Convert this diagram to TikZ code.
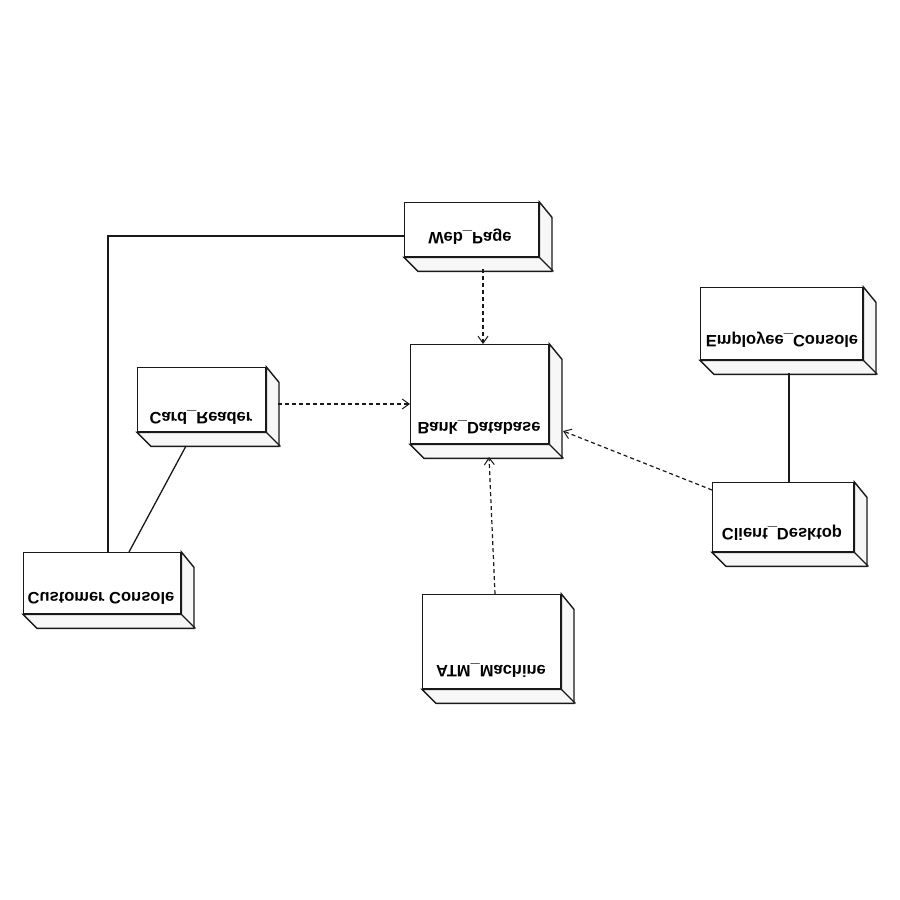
\documentclass[tikz,border=0pt]{standalone}
\usepackage{fontspec}
\setmainfont{Liberation Sans}
\usetikzlibrary{arrows.meta}
\begin{document}
\begin{tikzpicture}[x=1pt,y=-1pt,
  face/.style={draw=black!90,line width=1.4pt,fill=white,inner sep=0pt,anchor=north west},
  side/.style={draw=black!90,line width=1.4pt,fill=black!3,line join=miter},
  caption/.style={yscale=-1,anchor=base,font=\fontsize{16.5}{18}\selectfont\bfseries,inner sep=0pt},
  solidlink/.style={draw=black!90,line width=1.3pt},
  deplink/.style={draw=black!90,line width=1.2pt,dash pattern=on 4pt off 3pt,-{Straight Barb[length=7pt,width=10pt,line width=1pt]}}]
\useasboundingbox[fill=white] (0,0) rectangle (900,900);
% node boxes: front face at (x,y) with width/height, depth 14
\newcommand{\umlnode}[5]{%
  \node[face,minimum width=#4pt,minimum height=#5pt] (#1) at (#2,#3) {};
  \draw[side] (#1.south west) -- ++(14,14) -- ++(#4,0) -- ++(0,-#5) -- (#1.north east) -- (#1.south east) -- cycle;
  \draw[side] (#1.south east) -- ++(14,14);
}
\umlnode{web}{404}{202}{134}{54}
\umlnode{bank}{410}{344}{138}{99}
\umlnode{card}{137}{367}{128}{64}
\umlnode{cust}{23}{552}{157}{61}
\umlnode{atm}{422}{594}{138}{94}
\umlnode{emp}{700}{287}{162}{72}
\umlnode{client}{712}{482}{141}{69}
% labels
\node[caption] (webt) at (470,232) {Web\_Page};
\node[caption] (bankt) at (479,422) {Bank\_Database};
\node[caption] (cardt) at (201,412) {Card\_Reader};
\node[caption] (custt) at (101,592) {Customer Console};
\node[caption] (atmt) at (491,665) {ATM\_Machine};
\node[caption] (empt) at (782,335) {Employee\_Console};
\node[caption] (clientt) at (782,528) {Client\_Desktop};
% solid links
\coordinate (bend) at (108,236);
\draw[solidlink] (web.west |- bend) -- (bend) -- (bend |- cust.north);
\draw[solidlink] (186,446) coordinate (cr) -- (129,552) coordinate (cc);
\draw[solidlink] (789,373) coordinate (ec) -- (789,482) coordinate (cd);
% dependencies
\draw[deplink] (483,269) coordinate (w1) -- (w1 |- bank.north);
\draw[deplink] (278,404) coordinate (c1) -- (c1 -| bank.west);
\draw[deplink] (495,594) coordinate (a1) -- (489,457) coordinate (a2);
\draw[deplink] (712,490) coordinate (d1) -- (563,431) coordinate (d2);
\end{tikzpicture}
\end{document}
